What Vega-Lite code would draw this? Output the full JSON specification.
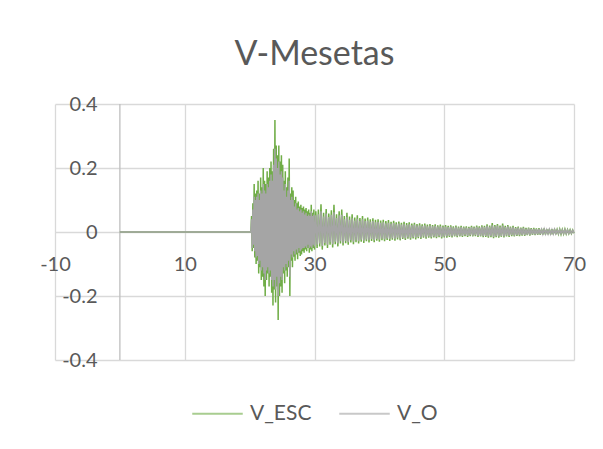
{
  "$schema": "https://vega.github.io/schema/vega-lite/v6.json",
  "width": 519,
  "height": 256,
  "autosize": {"type": "none"},
  "padding": {"left": 55, "top": 104, "right": 29, "bottom": 89},
  "background": "white",
  "title": {"text": "V-Mesetas", "font": "Lato", "fontSize": 34, "fontWeight": "normal", "color": "#595959", "anchor": "middle", "offset": 22},
  "data": {"values": [
    {"t":0,"e":0,"o":0},{"t":20.2,"e":0,"o":0},
    {"t":20.3,"e":0.05,"o":0.04},{"t":20.4,"e":-0.06,"o":-0.05},{"t":20.5,"e":0.09,"o":0.07},{"t":20.6,"e":-0.05,"o":-0.04},
    {"t":20.7,"e":0.15,"o":0.11},{"t":20.8,"e":-0.08,"o":-0.06},{"t":20.9,"e":0.12,"o":0.1},{"t":21.0,"e":-0.1,"o":-0.08},
    {"t":21.1,"e":0.13,"o":0.11},{"t":21.2,"e":-0.09,"o":-0.075},{"t":21.3,"e":0.16,"o":0.12},{"t":21.4,"e":-0.13,"o":-0.1},
    {"t":21.5,"e":0.12,"o":0.1},{"t":21.6,"e":-0.11,"o":-0.09},{"t":21.7,"e":0.17,"o":0.13},{"t":21.8,"e":-0.15,"o":-0.12},
    {"t":21.9,"e":0.14,"o":0.12},{"t":22.0,"e":-0.14,"o":-0.11},{"t":22.1,"e":0.2,"o":0.15},{"t":22.2,"e":-0.17,"o":-0.13},
    {"t":22.3,"e":0.16,"o":0.13},{"t":22.4,"e":-0.2,"o":-0.15},{"t":22.5,"e":0.15,"o":0.12},{"t":22.6,"e":-0.15,"o":-0.12},
    {"t":22.7,"e":0.19,"o":0.15},{"t":22.8,"e":-0.13,"o":-0.11},{"t":22.9,"e":0.17,"o":0.14},{"t":23.0,"e":-0.17,"o":-0.13},
    {"t":23.1,"e":0.2,"o":0.16},{"t":23.2,"e":-0.14,"o":-0.12},{"t":23.3,"e":0.22,"o":0.18},{"t":23.4,"e":-0.19,"o":-0.15},
    {"t":23.5,"e":0.19,"o":0.16},{"t":23.6,"e":-0.23,"o":-0.17},{"t":23.7,"e":0.26,"o":0.21},{"t":23.8,"e":-0.18,"o":-0.15},
    {"t":23.9,"e":0.35,"o":0.26},{"t":24.0,"e":-0.22,"o":-0.18},{"t":24.1,"e":0.27,"o":0.23},{"t":24.2,"e":-0.17,"o":-0.14},
    {"t":24.3,"e":0.24,"o":0.2},{"t":24.4,"e":-0.275,"o":-0.2},{"t":24.5,"e":0.27,"o":0.22},{"t":24.6,"e":-0.2,"o":-0.16},
    {"t":24.7,"e":0.22,"o":0.18},{"t":24.8,"e":-0.17,"o":-0.14},{"t":24.9,"e":0.24,"o":0.19},{"t":25.0,"e":-0.19,"o":-0.15},
    {"t":25.1,"e":0.21,"o":0.17},{"t":25.2,"e":-0.13,"o":-0.11},{"t":25.3,"e":0.16,"o":0.13},{"t":25.4,"e":-0.16,"o":-0.12},
    {"t":25.5,"e":0.19,"o":0.15},{"t":25.6,"e":-0.12,"o":-0.1},{"t":25.7,"e":0.14,"o":0.11},{"t":25.8,"e":-0.14,"o":-0.11},
    {"t":25.9,"e":0.17,"o":0.13},{"t":26.0,"e":-0.11,"o":-0.09},{"t":26.1,"e":0.23,"o":0.16},{"t":26.2,"e":-0.2,"o":-0.14},
    {"t":26.3,"e":0.12,"o":0.1},{"t":26.4,"e":-0.09,"o":-0.07},{"t":26.5,"e":0.14,"o":0.11},{"t":26.6,"e":-0.11,"o":-0.08},
    {"t":26.7,"e":0.13,"o":0.1},{"t":26.8,"e":-0.077,"o":-0.06},{"t":26.9,"e":0.1,"o":0.08},{"t":27.0,"e":-0.09,"o":-0.07},
    {"t":27.1,"e":0.11,"o":0.09},{"t":27.2,"e":-0.07,"o":-0.055},{"t":27.3,"e":0.09,"o":0.07},{"t":27.4,"e":-0.085,"o":-0.065},
    {"t":27.5,"e":0.095,"o":0.075},{"t":27.6,"e":-0.065,"o":-0.05},{"t":27.7,"e":0.08,"o":0.065},{"t":27.8,"e":-0.075,"o":-0.06},
    {"t":27.9,"e":0.085,"o":0.07},{"t":28.0,"e":-0.07,"o":-0.055},{"t":28.1,"e":0.075,"o":0.06},{"t":28.2,"e":-0.06,"o":-0.05},
    {"t":28.3,"e":0.08,"o":0.065},{"t":28.4,"e":-0.065,"o":-0.05},{"t":28.5,"e":0.07,"o":0.055},{"t":28.6,"e":-0.055,"o":-0.045},
    {"t":28.7,"e":0.075,"o":0.06},{"t":28.8,"e":-0.06,"o":-0.05},{"t":28.9,"e":0.065,"o":0.05},{"t":29.0,"e":-0.05,"o":-0.04},
    {"t":29.1,"e":0.07,"o":0.055},{"t":29.2,"e":-0.065,"o":-0.05},{"t":29.3,"e":0.06,"o":0.05},{"t":29.4,"e":-0.055,"o":-0.045},
    {"t":29.5,"e":0.085,"o":0.065},{"t":29.6,"e":-0.06,"o":-0.05},{"t":29.7,"e":0.06,"o":0.05},{"t":29.8,"e":-0.05,"o":-0.04},
    {"t":29.9,"e":0.07,"o":0.055},{"t":30.0,"e":-0.055,"o":-0.045},
    {"t":30.2,"e":0.065,"o":0.052},{"t":30.4,"e":-0.05,"o":-0.04},{"t":30.6,"e":0.07,"o":0.055},{"t":30.8,"e":-0.045,"o":-0.036},
    {"t":31.0,"e":0.087,"o":0.065},{"t":31.2,"e":-0.055,"o":-0.044},{"t":31.4,"e":0.06,"o":0.048},{"t":31.6,"e":-0.042,"o":-0.034},
    {"t":31.8,"e":0.072,"o":0.058},{"t":32.0,"e":-0.05,"o":-0.04},{"t":32.2,"e":0.058,"o":0.047},{"t":32.4,"e":-0.04,"o":-0.032},
    {"t":32.6,"e":0.068,"o":0.054},{"t":32.8,"e":-0.048,"o":-0.038},{"t":33.0,"e":0.085,"o":0.062},{"t":33.2,"e":-0.038,"o":-0.03},
    {"t":33.4,"e":0.055,"o":0.044},{"t":33.6,"e":-0.045,"o":-0.036},{"t":33.8,"e":0.065,"o":0.052},{"t":34.0,"e":-0.036,"o":-0.029},
    {"t":34.2,"e":0.07,"o":0.054},{"t":34.4,"e":-0.042,"o":-0.034},{"t":34.6,"e":0.05,"o":0.04},{"t":34.8,"e":-0.035,"o":-0.028},
    {"t":35.0,"e":0.06,"o":0.047},{"t":35.2,"e":-0.04,"o":-0.032},{"t":35.4,"e":0.048,"o":0.038},{"t":35.6,"e":-0.033,"o":-0.026},
    {"t":35.8,"e":0.055,"o":0.043},{"t":36.0,"e":-0.038,"o":-0.03},{"t":36.2,"e":0.045,"o":0.036},{"t":36.4,"e":-0.032,"o":-0.026},
    {"t":36.6,"e":0.052,"o":0.041},{"t":36.8,"e":-0.036,"o":-0.029},{"t":37.0,"e":0.044,"o":0.035},{"t":37.2,"e":-0.03,"o":-0.024},
    {"t":37.4,"e":0.05,"o":0.04},{"t":37.6,"e":-0.034,"o":-0.027},{"t":37.8,"e":0.042,"o":0.034},{"t":38.0,"e":-0.029,"o":-0.023},
    {"t":38.2,"e":0.045,"o":0.036},{"t":38.4,"e":-0.033,"o":-0.026},{"t":38.6,"e":0.04,"o":0.032},{"t":38.8,"e":-0.028,"o":-0.022},
    {"t":39.0,"e":0.043,"o":0.034},{"t":39.2,"e":-0.032,"o":-0.026},{"t":39.4,"e":0.038,"o":0.03},{"t":39.6,"e":-0.027,"o":-0.022},
    {"t":39.8,"e":0.04,"o":0.032},{"t":40.0,"e":-0.03,"o":-0.024},{"t":40.2,"e":0.036,"o":0.029},{"t":40.4,"e":-0.026,"o":-0.021},
    {"t":40.6,"e":0.038,"o":0.03},{"t":40.8,"e":-0.029,"o":-0.023},{"t":41.0,"e":0.034,"o":0.027},{"t":41.2,"e":-0.025,"o":-0.02},
    {"t":41.4,"e":0.037,"o":0.029},{"t":41.6,"e":-0.028,"o":-0.022},{"t":41.8,"e":0.032,"o":0.026},{"t":42.0,"e":-0.024,"o":-0.019},
    {"t":42.2,"e":0.035,"o":0.028},{"t":42.4,"e":-0.027,"o":-0.022},{"t":42.6,"e":0.03,"o":0.024},{"t":42.8,"e":-0.023,"o":-0.018},
    {"t":43.0,"e":0.033,"o":0.026},{"t":43.2,"e":-0.026,"o":-0.021},{"t":43.4,"e":0.029,"o":0.023},{"t":43.6,"e":-0.022,"o":-0.018},
    {"t":43.8,"e":0.032,"o":0.025},{"t":44.0,"e":-0.025,"o":-0.02},{"t":44.2,"e":0.028,"o":0.022},{"t":44.4,"e":-0.021,"o":-0.017},
    {"t":44.6,"e":0.03,"o":0.024},{"t":44.8,"e":-0.024,"o":-0.019},{"t":45.0,"e":0.026,"o":0.021},{"t":45.2,"e":-0.02,"o":-0.016},
    {"t":45.4,"e":0.029,"o":0.023},{"t":45.6,"e":-0.023,"o":-0.018},{"t":45.8,"e":0.025,"o":0.02},{"t":46.0,"e":-0.019,"o":-0.015},
    {"t":46.2,"e":0.027,"o":0.021},{"t":46.4,"e":-0.022,"o":-0.018},{"t":46.6,"e":0.024,"o":0.019},{"t":46.8,"e":-0.018,"o":-0.014},
    {"t":47.0,"e":0.026,"o":0.021},{"t":47.2,"e":-0.021,"o":-0.017},{"t":47.4,"e":0.023,"o":0.018},{"t":47.6,"e":-0.018,"o":-0.014},
    {"t":47.8,"e":0.025,"o":0.02},{"t":48.0,"e":-0.02,"o":-0.016},{"t":48.2,"e":0.022,"o":0.018},{"t":48.4,"e":-0.017,"o":-0.014},
    {"t":48.6,"e":0.024,"o":0.019},{"t":48.8,"e":-0.019,"o":-0.015},{"t":49.0,"e":0.021,"o":0.017},{"t":49.2,"e":-0.016,"o":-0.013},
    {"t":49.4,"e":0.023,"o":0.018},{"t":49.6,"e":-0.02,"o":-0.016},{"t":49.8,"e":0.02,"o":0.016},{"t":50.0,"e":-0.017,"o":-0.014},
    {"t":50.2,"e":0.022,"o":0.017},{"t":50.4,"e":-0.018,"o":-0.014},{"t":50.6,"e":0.019,"o":0.015},{"t":50.8,"e":-0.015,"o":-0.012},
    {"t":51.0,"e":0.021,"o":0.017},{"t":51.2,"e":-0.017,"o":-0.014},{"t":51.4,"e":0.018,"o":0.014},{"t":51.6,"e":-0.014,"o":-0.011},
    {"t":51.8,"e":0.02,"o":0.016},{"t":52.0,"e":-0.016,"o":-0.013},{"t":52.2,"e":0.017,"o":0.014},{"t":52.4,"e":-0.014,"o":-0.011},
    {"t":52.6,"e":0.019,"o":0.015},{"t":52.8,"e":-0.015,"o":-0.012},{"t":53.0,"e":0.017,"o":0.014},{"t":53.2,"e":-0.013,"o":-0.01},
    {"t":53.4,"e":0.018,"o":0.014},{"t":53.6,"e":-0.015,"o":-0.012},{"t":53.8,"e":0.016,"o":0.013},{"t":54.0,"e":-0.013,"o":-0.01},
    {"t":54.2,"e":0.019,"o":0.015},{"t":54.4,"e":-0.014,"o":-0.011},{"t":54.6,"e":0.017,"o":0.014},{"t":54.8,"e":-0.013,"o":-0.01},
    {"t":55.0,"e":0.02,"o":0.016},{"t":55.2,"e":-0.015,"o":-0.012},{"t":55.4,"e":0.018,"o":0.014},{"t":55.6,"e":-0.014,"o":-0.011},
    {"t":55.8,"e":0.021,"o":0.017},{"t":56.0,"e":-0.016,"o":-0.013},{"t":56.2,"e":0.019,"o":0.015},{"t":56.4,"e":-0.015,"o":-0.012},
    {"t":56.6,"e":0.024,"o":0.019},{"t":56.8,"e":-0.018,"o":-0.014},{"t":57.0,"e":0.02,"o":0.016},{"t":57.2,"e":-0.016,"o":-0.013},
    {"t":57.4,"e":0.028,"o":0.021},{"t":57.6,"e":-0.019,"o":-0.015},{"t":57.8,"e":0.022,"o":0.018},{"t":58.0,"e":-0.016,"o":-0.013},
    {"t":58.2,"e":0.025,"o":0.02},{"t":58.4,"e":-0.018,"o":-0.014},{"t":58.6,"e":0.02,"o":0.016},{"t":58.8,"e":-0.015,"o":-0.012},
    {"t":59.0,"e":0.026,"o":0.02},{"t":59.2,"e":-0.017,"o":-0.014},{"t":59.4,"e":0.019,"o":0.015},{"t":59.6,"e":-0.014,"o":-0.011},
    {"t":59.8,"e":0.022,"o":0.018},{"t":60.0,"e":-0.015,"o":-0.012},{"t":60.2,"e":0.017,"o":0.014},{"t":60.4,"e":-0.013,"o":-0.01},
    {"t":60.6,"e":0.019,"o":0.015},{"t":60.8,"e":-0.014,"o":-0.011},{"t":61.0,"e":0.015,"o":0.012},{"t":61.2,"e":-0.012,"o":-0.01},
    {"t":61.4,"e":0.017,"o":0.014},{"t":61.6,"e":-0.013,"o":-0.01},{"t":61.8,"e":0.014,"o":0.011},{"t":62.0,"e":-0.011,"o":-0.009},
    {"t":62.2,"e":0.016,"o":0.013},{"t":62.4,"e":-0.012,"o":-0.01},{"t":62.6,"e":0.013,"o":0.01},{"t":62.8,"e":-0.01,"o":-0.008},
    {"t":63.0,"e":0.014,"o":0.011},{"t":63.2,"e":-0.011,"o":-0.009},{"t":63.4,"e":0.012,"o":0.01},{"t":63.6,"e":-0.009,"o":-0.007},
    {"t":63.8,"e":0.013,"o":0.01},{"t":64.0,"e":-0.01,"o":-0.008},{"t":64.2,"e":0.011,"o":0.009},{"t":64.4,"e":-0.009,"o":-0.007},
    {"t":64.6,"e":0.012,"o":0.01},{"t":64.8,"e":-0.009,"o":-0.007},{"t":65.0,"e":0.01,"o":0.008},{"t":65.2,"e":-0.008,"o":-0.006},
    {"t":65.4,"e":0.011,"o":0.009},{"t":65.6,"e":-0.008,"o":-0.006},{"t":65.8,"e":0.009,"o":0.007},{"t":66.0,"e":-0.007,"o":-0.006},
    {"t":66.2,"e":0.01,"o":0.008},{"t":66.4,"e":-0.008,"o":-0.006},{"t":66.6,"e":0.009,"o":0.007},{"t":66.8,"e":-0.007,"o":-0.006},
    {"t":67.0,"e":0.01,"o":0.008},{"t":67.2,"e":-0.007,"o":-0.005},{"t":67.4,"e":0.008,"o":0.006},{"t":67.6,"e":-0.006,"o":-0.005},
    {"t":67.8,"e":0.009,"o":0.007},{"t":68.0,"e":-0.007,"o":-0.005},{"t":68.2,"e":0.008,"o":0.006},{"t":68.4,"e":-0.006,"o":-0.005},
    {"t":68.6,"e":0.009,"o":0.007},{"t":68.8,"e":-0.006,"o":-0.005},{"t":69.0,"e":0.007,"o":0.006},{"t":69.2,"e":-0.005,"o":-0.004},
    {"t":69.4,"e":0.007,"o":0.005},{"t":69.6,"e":-0.005,"o":-0.004},{"t":69.8,"e":0.006,"o":0.005},{"t":70.0,"e":-0.004,"o":-0.003}
  ]},
  "layer": [
    {
      "data": {"values": [{"x0": 0}]},
      "mark": {"type": "rule", "color": "#bfbfbf", "strokeWidth": 1.3},
      "encoding": {
        "x": {"field": "x0", "type": "quantitative", "title": null,
          "scale": {"domain": [-10, 70], "nice": false, "zero": false},
          "axis": {"values": [-10, 10, 30, 50, 70], "labelExpr": "toString(datum.value)", "labelPadding": -96, "labelBaseline": "middle", "labelAlign": "center"}}
      }
    },
    {
      "mark": {"type": "line", "strokeWidth": 1.5},
      "encoding": {
        "x": {"field": "t", "type": "quantitative", "title": null},
        "y": {"field": "e", "type": "quantitative", "title": null,
          "scale": {"domain": [-0.4, 0.4], "nice": false},
          "axis": {"values": [-0.4, -0.2, 0, 0.2, 0.4], "labelExpr": "toString(datum.value)", "labelPadding": -42, "labelAlign": "right", "labelBaseline": "middle"}},
        "color": {"datum": "V_ESC", "type": "nominal",
          "scale": {"domain": ["V_ESC", "V_O"], "range": ["#70ad47", "#a5a5a5"]},
          "legend": {"orient": "bottom", "direction": "horizontal", "title": null, "offset": 27}}
      }
    },
    {
      "mark": {"type": "line", "strokeWidth": 1.5},
      "encoding": {
        "x": {"field": "t", "type": "quantitative", "title": null},
        "y": {"field": "o", "type": "quantitative", "title": null},
        "color": {"datum": "V_O", "type": "nominal"}
      }
    }
  ],
  "config": {
    "view": {"stroke": null},
    "axis": {"grid": true, "gridColor": "#d9d9d9", "gridWidth": 1.3, "domain": false, "ticks": false, "tickSize": 0,
      "labelFont": "Lato", "labelFontSize": 20, "labelColor": "#595959", "labelOverlap": false, "labelFlush": false},
    "legend": {"labelFont": "Lato", "labelFontSize": 21, "labelColor": "#595959", "symbolType": "stroke", "symbolSize": 2550,
      "symbolStrokeWidth": 2, "symbolOpacity": 0.6, "labelOffset": 6, "columnPadding": 23,
      "layout": {"bottom": {"anchor": "middle"}}}
  }
}
